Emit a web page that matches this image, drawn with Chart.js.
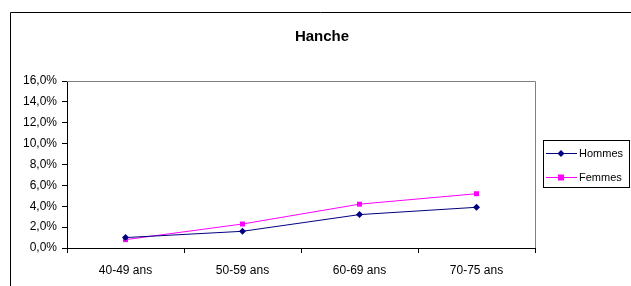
<!DOCTYPE html>
<html>
<head>
<meta charset="utf-8">
<script src="https://cdn.jsdelivr.net/npm/chart.js@4/dist/chart.umd.min.js"></script>
<style>
html,body{margin:0;padding:0;background:#fff;overflow:hidden;}
canvas{display:block;}
</style>
</head>
<body>
<canvas id="c" width="631" height="286"></canvas>
<script>
const title = "Hanche";
const categories = ["40-49 ans", "50-59 ans", "60-69 ans", "70-75 ans"];
const hommes = [0.010, 0.016, 0.032, 0.039];
const femmes = [0.008, 0.023, 0.042, 0.052];
const seriesNames = ["Hommes", "Femmes"];
const yTickMin = 0, yTickMax = 0.16, yTickStep = 0.02;

const FONT = "'Liberation Sans', Arial, sans-serif";

const framePlugin = {
  id: 'frame',
  afterDraw(chart) {
    const ctx = chart.ctx;
    const a = chart.chartArea;
    ctx.save();
    // outer border (top + left)
    ctx.strokeStyle = '#000';
    ctx.lineWidth = 1;
    ctx.beginPath();
    ctx.moveTo(10.5, 286);
    ctx.lineTo(10.5, 12.5);
    ctx.lineTo(631, 12.5);
    ctx.stroke();
    // plot area top and right border (grey)
    ctx.strokeStyle = '#808080';
    ctx.beginPath();
    ctx.moveTo(a.left, a.top + 0.5);
    ctx.lineTo(a.right + 0.5, a.top + 0.5);
    ctx.lineTo(a.right + 0.5, a.bottom);
    ctx.stroke();
    // title
    ctx.fillStyle = '#000';
    ctx.font = "bold 15px " + FONT;
    ctx.textAlign = 'center';
    ctx.textBaseline = 'middle';
    ctx.fillText(title, 322, 37);
    // legend
    const bx = 543.5, by = 140.5, bw = 86, bh = 47;
    ctx.fillStyle = '#fff';
    ctx.fillRect(bx, by, bw, bh);
    ctx.strokeStyle = '#000';
    ctx.strokeRect(bx, by, bw, bh);
    const rows = [153, 176.5];
    chart.data.datasets.forEach((ds, i) => {
      const y = Math.round(rows[i]) + 0.5;
      ctx.strokeStyle = ds.borderColor;
      ctx.lineWidth = 1;
      ctx.beginPath();
      ctx.moveTo(546, y);
      ctx.lineTo(577, y);
      ctx.stroke();
      ctx.fillStyle = ds.pointBackgroundColor;
      if (ds.pointStyle === 'rectRot') {
        ctx.beginPath();
        ctx.moveTo(561, y - 3.5);
        ctx.lineTo(564.5, y);
        ctx.lineTo(561, y + 3.5);
        ctx.lineTo(557.5, y);
        ctx.closePath();
        ctx.fill();
      } else {
        ctx.fillRect(558, y - 3, 6, 6);
      }
      ctx.fillStyle = '#000';
      ctx.font = "11px " + FONT;
      ctx.textAlign = 'left';
      ctx.textBaseline = 'middle';
      ctx.fillText(ds.label, 579, y);
    });
    ctx.restore();
  }
};

new Chart(document.getElementById('c'), {
  type: 'line',
  data: {
    labels: categories,
    datasets: [
      {
        label: seriesNames[0],
        data: hommes,
        borderColor: '#000080',
        backgroundColor: '#000080',
        pointBackgroundColor: '#000080',
        pointBorderColor: '#000080',
        pointStyle: 'rectRot',
        pointRadius: 3.5,
        borderWidth: 1,
        pointBorderWidth: 0,
        tension: 0
      },
      {
        label: seriesNames[1],
        data: femmes,
        borderColor: '#FF00FF',
        backgroundColor: '#FF00FF',
        pointBackgroundColor: '#FF00FF',
        pointBorderColor: '#FF00FF',
        pointStyle: 'rect',
        pointRadius: 3.5,
        borderWidth: 1,
        pointBorderWidth: 0,
        tension: 0
      }
    ]
  },
  options: {
    responsive: false,
    animation: false,
    devicePixelRatio: 1,
    layout: { padding: { left: 10, top: 81, right: 96, bottom: 0 } },
    plugins: {
      legend: { display: false },
      title: { display: false },
      tooltip: { enabled: false }
    },
    scales: {
      x: {
        offset: true,
        grid: {
          offset: true,
          drawOnChartArea: false,
          drawTicks: true,
          tickLength: 5,
          color: '#000'
        },
        border: { color: '#000', width: 1 },
        ticks: {
          color: '#000',
          font: { family: FONT, size: 12 },
          padding: 10,
          maxRotation: 0
        },
        afterFit(scale) { scale.height = 38; }
      },
      y: {
        min: yTickMin,
        max: yTickMax,
        grid: {
          drawOnChartArea: false,
          drawTicks: true,
          tickLength: 5,
          color: '#000'
        },
        border: { color: '#000', width: 1 },
        ticks: {
          stepSize: yTickStep,
          color: '#000',
          font: { family: FONT, size: 12 },
          padding: 5,
          callback: v => (v * 100).toFixed(1).replace('.', ',') + '%'
        },
        afterFit(scale) { scale.width = 57; }
      }
    }
  },
  plugins: [framePlugin]
});
</script>
</body>
</html>
